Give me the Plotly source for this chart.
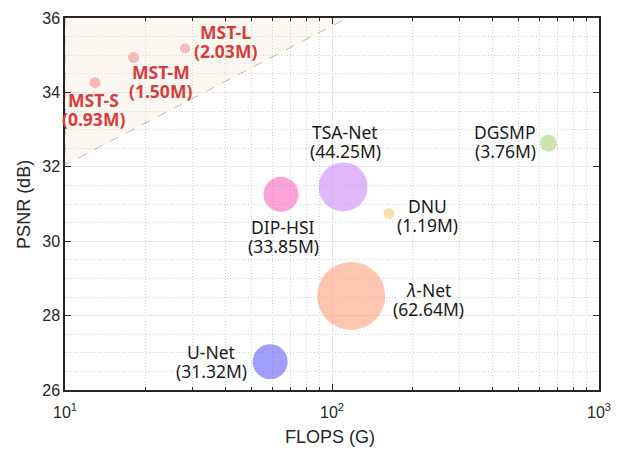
import math
import plotly.graph_objects as go

# ---- data ----
names = ["MST-S", "MST-M", "MST-L", "TSA-Net", "DIP-HSI", "DNU", "λ-Net", "U-Net", "DGSMP"]
params = ["(0.93M)", "(1.50M)", "(2.03M)", "(44.25M)", "(33.85M)", "(1.19M)", "(62.64M)", "(31.32M)", "(3.76M)"]
flops = [12.96, 18.07, 28.15, 110.06, 64.42, 163.48, 117.98, 58.65, 646.65]
psnr = [34.26, 34.94, 35.18, 31.46, 31.26, 30.74, 28.53, 26.76, 32.63]
x_ticks = [10, 100, 1000]
x_ticktext = ["10<sup>1</sup>", "10<sup>2</sup>", "10<sup>3</sup>"]
x_minor = [20, 30, 40, 50, 60, 70, 80, 90, 200, 300, 400, 500, 600, 700, 800, 900]
region_x = [10, 10, 114]
region_y = [36, 32.05, 36]
x_title = "FLOPS (G)"
y_title = "PSNR (dB)"

# ---- style ----
sizes = [11, 11, 10, 49, 35, 11, 68, 35, 17]
colors = ["rgba(244,145,145,0.85)", "rgba(244,145,145,0.85)", "rgba(244,145,145,0.85)",
          "rgba(208,140,250,0.88)", "rgba(250,105,195,0.88)", "rgba(245,200,120,0.85)",
          "rgba(253,160,120,0.85)", "rgba(100,100,250,0.88)", "rgba(165,210,120,0.85)"]
label_shift = [(-2, -27), (27, -24), (40, 7), (2, 45), (2, -42), (38, -2), (77, -4), (-59, 0), (-43, 2)]
red_labels = [True, True, True, False, False, False, False, False, False]

fig = go.Figure()
fig.add_trace(go.Scatter(x=region_x, y=region_y, mode="lines", fill="toself",
                         fillcolor="rgba(244,228,208,0.3)",
                         line=dict(color="rgba(185,175,165,0.9)", width=1, dash="dash"),
                         hoverinfo="skip", showlegend=False))
fig.add_trace(go.Scatter(x=flops, y=psnr, mode="markers",
                         marker=dict(size=sizes, color=colors, line=dict(width=0)),
                         showlegend=False))

half = 9.5
for i in range(len(names)):
    dx, dy = label_shift[i]
    red = red_labels[i]
    fcol = "#d63c3c" if red else "#1a1a1a"
    t1 = f"<b>{names[i]}</b>" if red else names[i]
    t2 = f"<b>{params[i]}</b>" if red else params[i]
    if names[i] == "λ-Net":
        t1 = "<i>λ</i>-Net"
    fnt = dict(family="Noto Sans", size=17.5, color=fcol)
    lx = math.log10(flops[i])
    fig.add_annotation(x=lx, y=psnr[i], xref="x", yref="y", text=t1, showarrow=False,
                       xshift=dx, yshift=dy + half, font=fnt)
    fig.add_annotation(x=lx, y=psnr[i], xref="x", yref="y", text=t2, showarrow=False,
                       xshift=dx, yshift=dy - half, font=fnt)

title_font = dict(family="Liberation Sans, Arial", size=18, color="#262626")
fig.add_annotation(x=0.496, y=-0.126, xref="paper", yref="paper", text=x_title, showarrow=False,
                   xanchor="center", yanchor="middle", font=title_font)
fig.add_annotation(x=-0.077, y=0.5, xref="paper", yref="paper", text=y_title, showarrow=False,
                   xanchor="center", yanchor="middle", textangle=-90, font=title_font)

axis_font = dict(family="Liberation Sans, Arial", size=16, color="#262626")
fig.update_xaxes(type="log", range=[1, 3], tickmode="array", tickvals=x_ticks, ticktext=x_ticktext,
                 ticks="inside", ticklen=6, tickcolor="#262626", showline=True, linecolor="#262626",
                 linewidth=1.5, mirror="allticks", showgrid=True, gridcolor="#e6e6e6", gridwidth=1,
                 tickfont=axis_font, zeroline=False, automargin=False, ticklabelstandoff=7,
                 minor=dict(tickmode="array", tickvals=x_minor, ticks="inside", ticklen=3,
                            tickcolor="#262626", showgrid=True, gridcolor="#cfcfcf", griddash="1px,2px"))
fig.update_yaxes(range=[26, 36], dtick=2, ticks="inside", ticklen=6, tickcolor="#262626",
                 showline=True, linecolor="#262626", linewidth=1.5, mirror="allticks",
                 showgrid=True, gridcolor="#e6e6e6", tickfont=axis_font, zeroline=False,
                 automargin=False,
                 minor=dict(dtick=0.5, ticks="", showgrid=True, gridcolor="#cfcfcf", griddash="1px,2px"))
fig.update_layout(width=613, height=441, margin=dict(l=57, r=22, t=10, b=59),
                  plot_bgcolor="white", paper_bgcolor="white")
fig.write_html("out.html")
